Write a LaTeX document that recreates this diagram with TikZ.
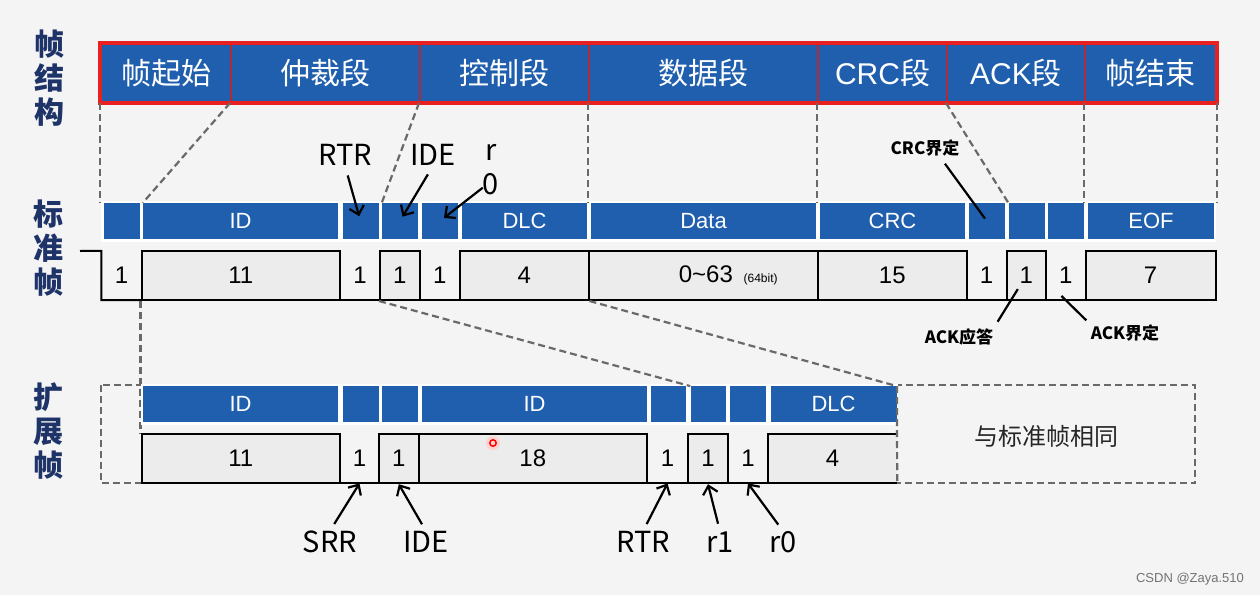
\documentclass[tikz,border=0pt]{standalone}
\usepackage{fontspec}
\setmainfont{Liberation Sans}
\newfontfamily\cjk{Noto Sans CJK SC}
\usetikzlibrary{arrows.meta}
\definecolor{canblue}{RGB}{31,95,173}
\definecolor{canred}{RGB}{232,32,32}
\definecolor{segline}{RGB}{178,42,52}
\definecolor{rownavy}{RGB}{30,52,105}
\definecolor{guidegray}{RGB}{105,105,105}
\definecolor{boxgray}{RGB}{236,236,236}
\definecolor{pagegray}{RGB}{244,244,244}

\begin{document}
\begin{tikzpicture}[x=1pt, y=-1pt, every node/.style={inner sep=0pt}]
    % Define styles
    \tikzstyle{seg} = [rectangle, draw=segline, line width=2pt, fill=canblue, text=white,
                       font=\cjk\fontsize{30}{30}\selectfont, minimum height=58pt]
    \tikzstyle{field} = [rectangle, fill=canblue, text=white, font=\fontsize{22}{22}\selectfont,
                         minimum height=36pt]
    \tikzstyle{bitbox} = [rectangle, draw=black, line width=2pt, fill=boxgray,
                          font=\fontsize{24}{24}\selectfont, minimum height=49pt]
    \tikzstyle{bitlow} = [rectangle, font=\fontsize{24}{24}\selectfont, minimum height=49pt]
    \tikzstyle{wire} = [line width=2pt]
    \tikzstyle{guide} = [draw=guidegray, line width=2.2pt, dash pattern=on 7pt off 4pt]
    \tikzstyle{tag} = [font=\cjk\fontsize{29}{34}\selectfont, align=center]
    \tikzstyle{note} = [font=\cjk\bfseries\fontsize{17}{17}\selectfont]
    \tikzstyle{rowname} = [font=\cjk\bfseries\fontsize{30}{34}\selectfont, text=rownavy, align=center]
    \tikzstyle{pointer} = [-{Straight Barb[length=8pt,width=15pt]}, line width=2.2pt]
    \tikzstyle{leader} = [line width=2.2pt]

    \fill[pagegray] (0,0) rectangle (1260,595);
    \useasboundingbox (0,0) rectangle (1260,595);

    % Row names
    \node[rowname] (rowframe) at (49,78) {帧\\结\\构};
    \node[rowname] (rowstd) at (48,248) {标\\准\\帧};
    \node[rowname] (rowext) at (48,431) {扩\\展\\帧};

    % Frame structure bar
    \node[seg, minimum width=130pt] (tsof) at (166,73) {帧起始};
    \node[seg, minimum width=189pt] (tarb) at (325.5,73) {仲裁段};
    \node[seg, minimum width=169pt] (tctrl) at (504.5,73) {控制段};
    \node[seg, minimum width=229pt] (tdata) at (703.5,73) {数据段};
    \node[seg, minimum width=129pt] (tcrc) at (882.5,73) {{\rmfamily CRC}段};
    \node[seg, minimum width=138pt] (tack) at (1016,73) {{\rmfamily ACK}段};
    \node[seg, minimum width=131pt] (teof) at (1150.5,73) {帧结束};
    \draw[canred, line width=3.5pt] (tsof.north west) rectangle (teof.south east);

    % Standard frame fields
    \fill[white] (101,201) rectangle (1216,242);
    \node[field, minimum width=36pt] (fsof) at (121.5,221) {};
    \node[field, minimum width=195pt] (fid) at (240.5,221) {ID};
    \node[field, minimum width=36pt] (frtr) at (360.5,221) {};
    \node[field, minimum width=36pt] (fide) at (400,221) {};
    \node[field, minimum width=36pt] (fr0) at (440,221) {};
    \node[field, minimum width=125pt] (fdlc) at (524.5,221) {DLC};
    \node[field, minimum width=225pt] (fdata) at (703.5,221) {Data};
    \node[field, minimum width=145pt] (fcrc) at (892.5,221) {CRC};
    \node[field, minimum width=36.5pt] (fcrcdel) at (986.75,221) {};
    \node[field, minimum width=36pt] (fack) at (1026.5,221) {};
    \node[field, minimum width=36pt] (fackdel) at (1066,221) {};
    \node[field, minimum width=126pt] (feof) at (1151,221) {EOF};

    % Guides from the bar down
    \draw[guide] (tsof.south west) -- (tsof.south west |- fsof.north);
    \draw[guide] (tarb.south west) -- (fid.north west);
    \draw[guide] (tctrl.south west) -- (fide.north west);
    \draw[guide] (tdata.south west) -- (tdata.south west |- fdata.north);
    \draw[guide] (tcrc.south west) -- (tcrc.south west |- fcrc.north);
    \draw[guide] (tack.south west) -- (fack.north west);
    \draw[guide] (teof.south west) -- (teof.south west |- feof.north);
    \draw[guide] (teof.south east) -- (teof.south east |- feof.north);

    % Standard frame bits
    \coordinate (idle) at (80,251);
    \node[bitlow, minimum width=40pt] (bsof) at (121.5,275.5) {1};
    \node[bitbox, minimum width=198.5pt] (bid) at (240.75,275.5) {11};
    \node[bitlow, minimum width=40pt] (brtr) at (360,275.5) {1};
    \node[bitbox, minimum width=39.5pt] (bide) at (399.75,275.5) {1};
    \node[bitlow, minimum width=40.5pt] (br0) at (439.75,275.5) {1};
    \node[bitbox, minimum width=128.5pt] (bdlc) at (524.25,275.5) {4};
    \node[bitbox, minimum width=229.5pt] (bdata) at (703.25,275.5) {};
    \node[font=\fontsize{24}{24}\selectfont] (datatext) at ([xshift=25pt]bdata.center)
        {0\textasciitilde63\, {\fontsize{12}{12}\selectfont(64bit)}};
    \node[bitbox, minimum width=148.5pt] (bcrc) at (892.25,275.5) {15};
    \node[bitlow, minimum width=40pt] (bcrcdel) at (986.5,275.5) {1};
    \node[bitbox, minimum width=39.5pt] (back) at (1026.25,275.5) {1};
    \node[bitlow, minimum width=39.5pt] (backdel) at (1065.75,275.5) {1};
    \node[bitbox, minimum width=130pt] (beof) at (1150.5,275.5) {7};
    \draw[wire] (idle) -- (bsof.north west) -- (bsof.south west) -- (bsof.south east);
    \draw[wire] (brtr.south west) -- (br0.south east);
    \draw[wire] (bcrcdel.south west) -- (backdel.south east);

    % Standard labels
    \node[tag] (lrtr) at (345,155) {RTR};
    \node[tag] (lide) at (433,155) {IDE};
    \node[tag] (lr0) at (491,170) {r\\0};
    \draw[pointer, shorten <=10pt, shorten >=5pt] (lrtr.south) -- (frtr.center);
    \draw[pointer, shorten <=10pt, shorten >=5pt] (lide.south) -- (fide.center);
    \draw[pointer, shorten >=5pt] (lr0.245) -- (fr0.center);
    \node[note] (lcrcdel) at (925,148) {CRC界定};
    \node[note] (lackslot) at (959,337) {ACK应答};
    \node[note] (lackdel) at (1125,333) {ACK界定};
    \draw[leader, shorten <=9pt, shorten >=3pt] (lcrcdel.-30) -- (fcrcdel.center);
    \draw[leader, shorten <=8pt, shorten >=16pt] (lackslot.north east) -- (back.center);
    \draw[leader, shorten <=6pt, shorten >=-6pt] (lackdel.north west) -- (backdel.south);

    % Extended frame outline
    \draw[guide] (101,385) rectangle (1195,483.3);
    \draw[guide] (bid.south west) -- (bid.south west |- 0,434);
    \node[font=\cjk\fontsize{24}{24}\selectfont, text=black!85] (same) at (1046,436) {与标准帧相同};

    % Extended frame fields
    \fill[white] (141,384) rectangle (898,425);
    \node[field, minimum width=195pt] (xfid) at (240.5,404.3) {ID};
    \node[field, minimum width=35.5pt] (xfsrr) at (360.75,404.3) {};
    \node[field, minimum width=36pt] (xfide) at (400,404.3) {};
    \node[field, minimum width=225pt] (xfidb) at (534.5,404.3) {ID};
    \node[field, minimum width=35.8pt] (xfrtr) at (668.4,404.3) {};
    \node[field, minimum width=35.8pt] (xfr1) at (708.4,404.3) {};
    \node[field, minimum width=36.6pt] (xfr0) at (747.9,404.3) {};
    \node[field, minimum width=126.2pt] (xfdlc) at (833.6,404.3) {DLC};

    % Guides from standard to extended
    \draw[guide] (bide.south west) -- (xfr1.north west);
    \draw[guide] (bdlc.south east) -- (xfdlc.north east);

    % Extended frame bits
    \node[bitbox, minimum width=198.5pt] (xbid) at (240.75,458.7) {11};
    \node[bitlow, minimum width=39pt] (xbsrr) at (359.5,458.7) {1};
    \node[bitbox, minimum width=39.6pt] (xbide) at (398.8,458.7) {1};
    \node[bitbox, minimum width=228.4pt] (xbidb) at (532.8,458.7) {18};
    \node[bitlow, minimum width=41pt] (xbrtr) at (667.5,458.7) {1};
    \node[bitbox, minimum width=40pt] (xbr1) at (708,458.7) {1};
    \node[bitlow, minimum width=40pt] (xbr0) at (748,458.7) {1};
    \node[bitlow, fill=boxgray, minimum width=129pt] (xbdlc) at (832.5,458.7) {4};
    \draw[wire] (xbsrr.south west) -- (xbsrr.south east);
    \draw[wire] (xbrtr.south west) -- (xbr0.south east);
    \draw[wire] (xbdlc.north east) -- (xbdlc.north west) -- (xbdlc.south west) -- (xbdlc.south east);
    \draw[guide] (xfdlc.north east) -- (xbdlc.south east);
    \fill[red!18] (493,443) circle (7);
    \draw[red, line width=1.5pt] (493,443) circle (3.2);

    % Extended labels
    \node[tag] (lsrr) at (330,542) {SRR};
    \node[tag] (lxide) at (426,542) {IDE};
    \node[tag] (lxrtr) at (643,542) {RTR};
    \node[tag] (lr1) at (720,542) {r1};
    \node[tag] (lxr0) at (783,542) {r0};
    \draw[pointer, shorten <=8pt] (lsrr.north) -- (xbsrr.south);
    \draw[pointer, shorten <=8pt] (lxide.north) -- (xbide.south);
    \draw[pointer, shorten <=8pt] (lxrtr.north) -- (xbrtr.south);
    \draw[pointer, shorten <=8pt] (lr1.north) -- (xbr1.south);
    \draw[pointer, shorten <=8pt] (lxr0.north) -- (xbr0.south);

    \node[font=\fontsize{13}{13}\selectfont, text=black!55] (mark) at (1190,579) {CSDN @Zaya.510};
\end{tikzpicture}
\end{document}
